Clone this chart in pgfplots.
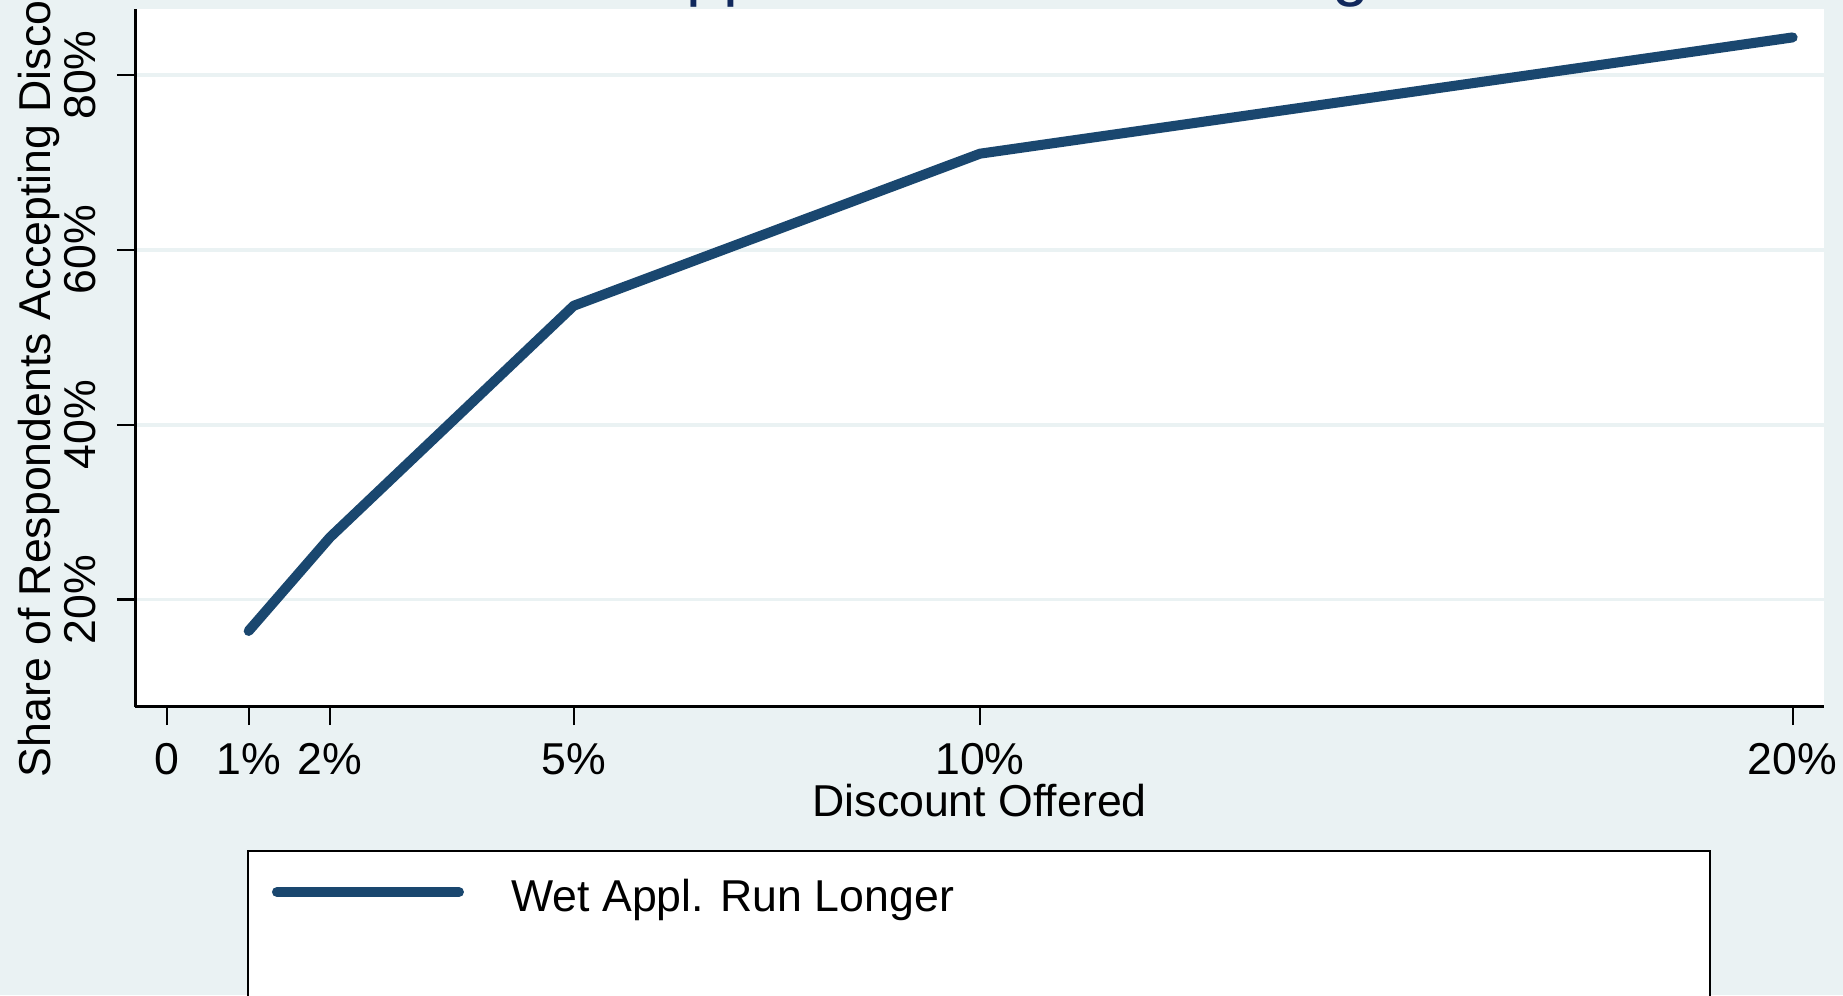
\documentclass[border=0pt]{standalone}
\usepackage{fontspec}
\setmainfont{Liberation Sans}
\usepackage{pgfplots}
\pgfplotsset{compat=1.18}
\definecolor{bgc}{RGB}{234,242,243}
\definecolor{stnavy}{RGB}{26,71,111}
\definecolor{dknavy}{RGB}{16,40,92}
\newcommand{\lblfont}{\fontsize{12.7}{15}\selectfont}
\begin{document}
\begin{tikzpicture}
\path[use as bounding box] (0,0) rectangle (184.3mm,-99.5mm);
\fill[bgc] (0,0) rectangle (184.3mm,-99.5mm);
\clip (0,0) rectangle (184.3mm,-99.5mm);
\fill[white, draw=black, line width=0.6pt] (24.82mm,-85.13mm) rectangle (171.0mm,-120mm);
\begin{axis}[
  at={(13.53mm,-70.67mm)}, anchor=south west,
  scale only axis, width=168.87mm, height=69.77mm,
  xmin=-0.395, xmax=20.386, ymin=7.73, ymax=87.55,
  axis background/.style={fill=white},
  axis x line*=bottom, axis y line*=left,
  axis line style={line width=0.75pt, black, -},
  every outer x axis line/.append style={-},
  every outer y axis line/.append style={-},
  xtick={0,1,2,5,10,20},
  xticklabels={0,1\%,2\%,5\%,10\%,20\%},
  ytick={20,40,60,80},
  yticklabels={20\%,40\%,60\%,80\%},
  tick align=outside, major tick length=1.85mm,
  tick style={black, line width=0.6pt},
  minor tick num=0,
  ymajorgrids, grid style={bgc, line width=1.1pt},
  /pgf/number format/assume math mode=true,
  every tick label/.append style={font=\lblfont},
  xticklabel style={anchor=base, inner sep=0pt, yshift=-4.9mm},
  yticklabel style={xshift=-2.1mm, rotate=90, anchor=base, inner sep=0pt},
  xlabel={Discount Offered},
  xlabel style={at={([yshift=-11.0mm]axis description cs:0.5,0)}, anchor=base, inner sep=0pt, font=\lblfont},
  ylabel={Share of Respondents Accepting Discount},
  ylabel style={at={([xshift=-8.48mm]axis description cs:0,0.5)}, anchor=base, inner sep=0pt, font=\lblfont},
  title={Wet Appliances Run for Longer},
  every axis title/.style={at={([xshift=-1.2mm,yshift=1.6mm]axis description cs:0.5,1)}, anchor=base, inner sep=0pt, font=\fontsize{18.9}{22}\selectfont, text=dknavy},
  legend style={at={(axis description cs:0.0805,-0.2742)}, anchor=west, draw=none, fill=none, inner sep=0pt, font=\lblfont, nodes={inner sep=0pt}},
  legend cell align=left,
  legend image code/.code={\draw[stnavy, line width=2.85pt, line cap=round] (0mm,0.17em) -- (18.2mm,0.17em);},
  /tikz/every odd column/.append style={column sep=4.75mm},
]
\addplot[stnavy, line width=2.85pt, line cap=round, line join=round] coordinates {
  (1,16.4) (2,27.1) (5,53.6) (10,71.0) (20,84.3)
};
\addlegendentry{Wet Appl. Run Longer}
\end{axis}
\end{tikzpicture}
\end{document}
